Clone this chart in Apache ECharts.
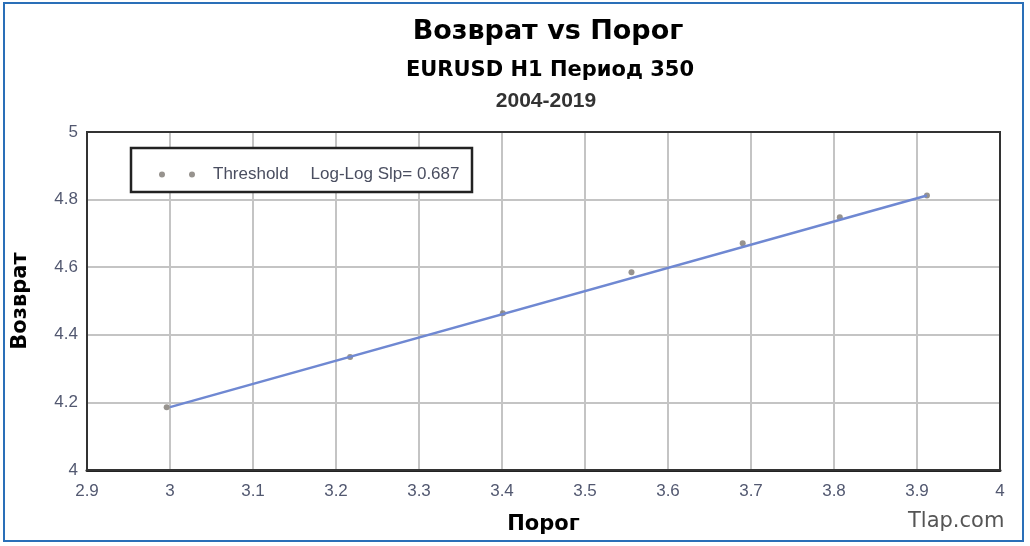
<!DOCTYPE html>
<html>
<head>
<meta charset="utf-8">
<script src="https://cdn.jsdelivr.net/npm/echarts@6/dist/echarts.min.js"></script>
<style>
    html, body { margin: 0; padding: 0; background: #fff; }
    #chart { width: 1030px; height: 546px; }
</style>
</head>
<body>
<div id="chart"></div>
<script>
    // порог (x) и возврат (y)
    const porog = [2.996, 3.217, 3.401, 3.556, 3.690, 3.807, 3.912]
    const vozvrat = [4.186, 4.334, 4.464, 4.585, 4.671, 4.748, 4.812]
    // линия тренда (log-log)
    const trendX = [3.0, 3.912]
    const trendY = [4.186, 4.812]
    const slopeLabel = 'Log-Log Slp= 0.687'

    const chart = echarts.init(document.getElementById('chart'))
    const labelColor = '#525870'

    chart.setOption({
        animation: false,
        backgroundColor: '#fff',
        title: [
            {
                text: 'Возврат vs Порог',
                left: 543, top: 13, textAlign: 'center',
                textStyle: { fontFamily: 'DejaVu Sans', fontWeight: 'bold', fontSize: 27, color: '#000' }
            },
            {
                text: 'EURUSD H1 Период 350',
                left: 545, top: 55, textAlign: 'center',
                textStyle: { fontFamily: 'DejaVu Sans', fontWeight: 'bold', fontSize: 21, color: '#000' }
            },
            {
                text: '2004-2019',
                left: 541, top: 86, textAlign: 'center',
                textStyle: { fontFamily: 'Liberation Sans', fontWeight: 'bold', fontSize: 21, color: '#333' }
            }
        ],
        graphic: [
            {   // рамка картинки
                type: 'rect', z: 0,
                shape: { x: 4, y: 3, width: 1019, height: 538 },
                style: { fill: 'none', stroke: '#2a6fb8', lineWidth: 2 }
            },
            {   // рамка области построения
                type: 'rect', z: 5,
                shape: { x: 87, y: 132, width: 913, height: 338 },
                style: { fill: 'none', stroke: '#333', lineWidth: 2 }
            },
            {   // рамка легенды
                type: 'rect', z: 10,
                shape: { x: 131, y: 148, width: 341, height: 44 },
                style: { fill: '#fff', stroke: '#222', lineWidth: 2.5 }
            },
            {
                type: 'text', left: 908, top: 511, z: 10,
                style: { text: 'Tlap.com', fontFamily: 'DejaVu Sans', fontSize: 21, fill: '#555' }
            }
        ],
        legend: {
            left: 154, top: 161,
            z: 20,
            itemGap: -19,
            itemWidth: 36, itemHeight: 6,
            textStyle: { fontFamily: 'Liberation Sans', fontSize: 17, color: '#4a4e60' },
            data: [
                {
                    name: 'Threshold',
                    icon: 'path://M0,3a3,3 0 1,0 6,0a3,3 0 1,0 -6,0M30,3a3,3 0 1,0 6,0a3,3 0 1,0 -6,0',
                    textStyle: { padding: [0, 0, 0, 13] }
                },
                { name: slopeLabel, icon: 'none' }
            ]
        },
        grid: { left: 87, right: 30, top: 132, bottom: 76 },
        xAxis: {
            type: 'value',
            min: 2.9, max: 4, interval: 0.1,
            name: 'Порог',
            nameLocation: 'middle',
            nameGap: 44,
            nameTextStyle: { fontFamily: 'DejaVu Sans', fontWeight: 'bold', fontSize: 21, color: '#000' },
            axisLine: { lineStyle: { color: '#222', width: 3 } },
            axisTick: { show: false },
            axisLabel: {
                margin: 13,
                fontFamily: 'Liberation Sans', fontSize: 17, color: labelColor,
                formatter: v => +v.toFixed(1) + ''
            },
            splitLine: { show: true, lineStyle: { color: '#c4c4c4', width: 2 } }
        },
        yAxis: {
            type: 'value',
            min: 4, max: 5, interval: 0.2,
            name: 'Возврат',
            nameLocation: 'middle',
            nameGap: 56,
            nameTextStyle: { fontFamily: 'DejaVu Sans', fontWeight: 'bold', fontSize: 21, color: '#000' },
            axisLine: { show: true, lineStyle: { color: '#333', width: 2 } },
            axisTick: { show: false },
            axisLabel: {
                margin: 9,
                fontFamily: 'Liberation Sans', fontSize: 17, color: labelColor,
                formatter: v => +v.toFixed(1) + ''
            },
            splitLine: { show: true, lineStyle: { color: '#c4c4c4', width: 2 } }
        },
        series: [
            {
                name: slopeLabel,
                type: 'line',
                data: trendX.map((x, i) => [x, trendY[i]]),
                showSymbol: false,
                lineStyle: { color: '#6f88d2', width: 2.5 },
                z: 3
            },
            {
                name: 'Threshold',
                type: 'scatter',
                data: porog.map((x, i) => [x, vozvrat[i]]),
                symbolSize: 6,
                itemStyle: { color: '#7d7872' },
                z: 2
            }
        ]
    })
</script>
</body>
</html>
